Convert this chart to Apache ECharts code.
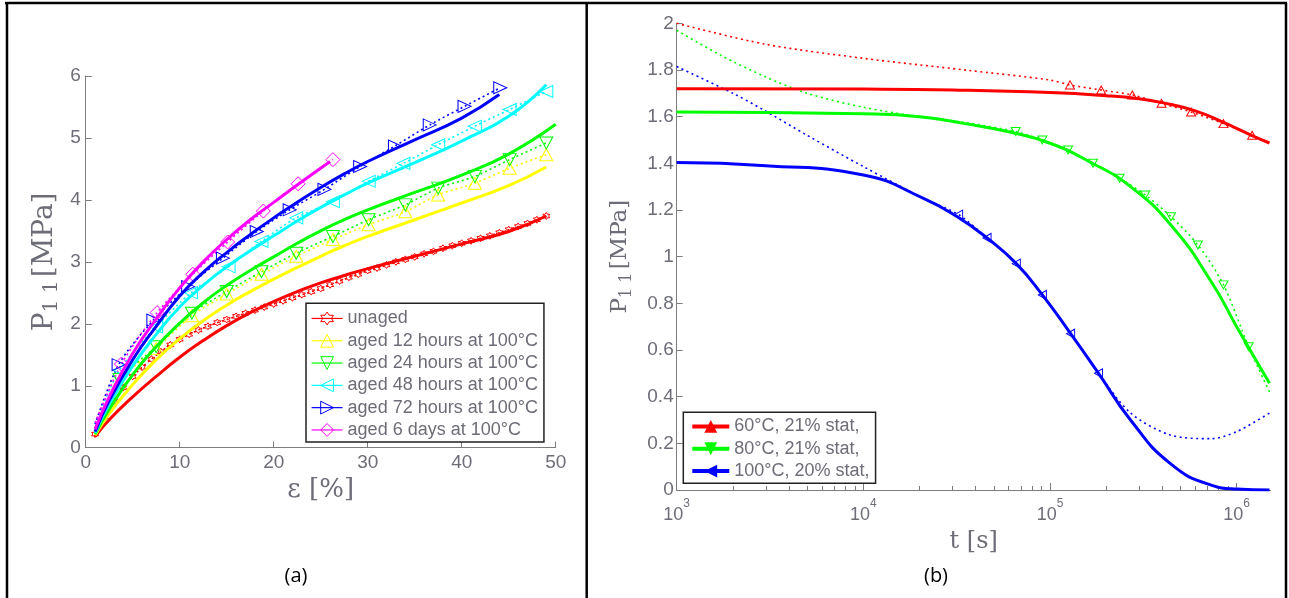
<!DOCTYPE html>
<html><head><meta charset="utf-8">
<script src="https://cdn.jsdelivr.net/npm/echarts@6/dist/echarts.min.js"></script>
<style>html,body{margin:0;padding:0;background:#fff}#c{width:1289px;height:598px}</style>
</head><body><div id="c"></div>
<script>
// ---------- Panel (a): P11 vs strain ----------
const aLegendNames = ['unaged','aged 12 hours at 100°C','aged 24 hours at 100°C','aged 48 hours at 100°C','aged 72 hours at 100°C','aged 6 days at 100°C'];
const aColors = ['#ff0000','#ffff00','#00ff00','#00ffff','#0000ff','#ff00ff'];
const aXTicks = [0,10,20,30,40,50];

// model fits (solid)
const fitUnaged = [[1,0.18],[2.5,0.45],[5,0.82],[7.5,1.15],[10,1.46],[12.5,1.73],[15,1.97],[17.5,2.18],[20,2.36],[22.5,2.52],[25,2.66],[27.5,2.78],[30,2.89],[35,3.09],[40,3.29],[45,3.49],[49,3.74]];
const fit12h = [[1,0.2],[2.5,0.55],[5,1.02],[7.5,1.42],[10,1.76],[12.5,2.05],[15,2.3],[17.5,2.52],[20,2.72],[22.5,2.91],[25,3.09],[27.5,3.26],[30,3.41],[35,3.68],[40,3.95],[45,4.23],[49,4.53]];
const fit24h = [[1,0.22],[2.5,0.62],[5,1.18],[7.5,1.63],[10,2.01],[12.5,2.34],[15,2.62],[17.5,2.86],[20,3.08],[22.5,3.3],[25,3.5],[27.5,3.68],[30,3.84],[35,4.12],[40,4.4],[45,4.74],[50,5.22]];
const fit48h = [[1,0.24],[2.5,0.7],[5,1.32],[7.5,1.83],[10,2.27],[12.5,2.62],[15,2.92],[17.5,3.18],[20,3.42],[22.5,3.66],[25,3.88],[27.5,4.08],[30,4.27],[35,4.6],[40,4.95],[45,5.35],[49,5.86]];
const fit72h = [[1,0.26],[2.5,0.76],[5,1.42],[7.5,1.96],[10,2.45],[12.5,2.83],[15,3.15],[17.5,3.44],[20,3.71],[22.5,3.96],[25,4.2],[27.5,4.42],[30,4.62],[35,4.97],[40,5.32],[44,5.7]];
const fit6d = [[1,0.3],[2.5,0.82],[5,1.52],[7.5,2.08],[10,2.58],[12.5,3.0],[15,3.36],[17.5,3.68],[20,3.96],[22.5,4.24],[26,4.62]];

// experiments (dotted + markers)
const expUnagedX = [1,2,3,4,5,6,7,8,9,10,11,12,13,14,15,16,17,18,19,20,21,22,23,24,25,26,27,28,29,30,31,32,33,34,35,36,37,38,39,40,41,42,43,44,45,46,47,48,49];
const expUnagedY = [0.22,0.5,0.75,0.97,1.15,1.3,1.43,1.55,1.66,1.75,1.83,1.9,1.96,2.02,2.07,2.12,2.17,2.22,2.27,2.32,2.37,2.42,2.47,2.52,2.57,2.63,2.69,2.75,2.8,2.86,2.9,2.95,3.0,3.04,3.08,3.13,3.17,3.22,3.26,3.3,3.34,3.38,3.42,3.47,3.52,3.57,3.62,3.68,3.74];
const exp12hX = [3.6,7.5,11.3,15,18.7,22.4,26.3,30.1,34,37.5,41.4,45.1,49];
const exp12hY = [1.08,1.6,2.13,2.48,2.8,3.09,3.36,3.6,3.81,4.08,4.27,4.51,4.73];
const exp24hX = [3.6,7.5,11.3,15,18.7,22.4,26.3,30.1,34,37.5,41.4,45.1,49];
const exp24hY = [1.1,1.63,2.17,2.52,2.84,3.14,3.41,3.68,3.92,4.19,4.38,4.65,4.92];
const exp48hX = [3.6,7.5,11.2,15.2,18.7,22.4,26.3,30.1,33.8,37.5,41.4,45.1,49];
const exp48hY = [1.25,1.95,2.5,2.92,3.33,3.71,3.97,4.3,4.59,4.89,5.19,5.46,5.75];
const exp72hX = [3.5,7.2,10.9,14.6,18.2,21.7,25.4,29.2,32.9,36.6,40.3,44.1];
const exp72hY = [1.34,2.06,2.6,3.06,3.49,3.84,4.17,4.54,4.87,5.21,5.51,5.81];
const exp6dX = [3.8,7.6,11.4,15.1,18.9,22.6,26.3];
const exp6dY = [1.35,2.18,2.8,3.32,3.82,4.26,4.65];
const expStart = [[1,0.22],[1,0.3],[1,0.3],[1,0.38],[1,0.38],[1,0.4]];

// ---------- Panel (b): P11 vs time (log) ----------
const bLegendNames = ['60°C, 21% stat,','80°C, 21% stat,','100°C, 20% stat,'];
const bColors = ['#ff0000','#00ff00','#0000ff'];
const bMajorTicks = [1e3,1e4,1e5,1e6];
const bMinorTicks = [2e3,3e3,4e3,5e3,6e3,7e3,8e3,9e3,2e4,3e4,4e4,5e4,6e4,7e4,8e4,9e4,2e5,3e5,4e5,5e5,6e5,7e5,8e5,9e5];

const fit60 = [[1e3,1.72],[1e4,1.718],[3e4,1.714],[1e5,1.703],[2e5,1.69],[3e5,1.677],[4e5,1.66],[6e5,1.625],[8.5e5,1.575],[1.2e6,1.52],[1.5e6,1.487]];
const fit80 = [[1e3,1.62],[1e4,1.612],[2e4,1.6],[3.5e4,1.57],[6e4,1.535],[1e5,1.486],[1.6e5,1.41],[2.7e5,1.3],[4.5e5,1.13],[7.4e5,0.886],[1e6,0.7],[1.5e6,0.457]];
const fit100 = [[1e3,1.403],[3e3,1.39],[1e4,1.35],[2.1e4,1.25],[3.2e4,1.17],[4.6e4,1.08],[6.6e4,0.97],[9.1e4,0.836],[1.29e5,0.67],[1.82e5,0.5],[2.7e5,0.3],[4.4e5,0.114],[7.3e5,0.021],[1e6,0.004],[1.5e6,0.0]];

const exp60Lead = [[1e3,2.0],[3e3,1.91],[1e4,1.85],[3.5e4,1.8],[1e5,1.757]];
const exp60Mk = [[1.28e5,1.736],[1.88e5,1.714],[2.76e5,1.693],[3.96e5,1.657],[5.7e5,1.62],[8.5e5,1.57],[1.21e6,1.52]];
const exp60Tail = [];
const exp80Lead = [[1e3,1.97],[1.75e3,1.86],[3e3,1.77],[5e3,1.7],[1e4,1.64],[2e4,1.6],[3.5e4,1.575]];
const exp80Mk = [[6.55e4,1.536],[9.1e4,1.5],[1.25e5,1.457],[1.7e5,1.4],[2.36e5,1.336],[3.24e5,1.264],[4.45e5,1.171],[6.2e5,1.05],[8.5e5,0.879],[1.16e6,0.614]];
const exp80Tail = [[1.5e6,0.42]];
const exp100Lead = [[1e3,1.815],[2e3,1.7],[2.9e3,1.63],[5e3,1.52],[1e4,1.386],[2.16e4,1.245]];
const exp100Mk = [[3.24e4,1.18],[4.6e4,1.08],[6.6e4,0.97],[9.1e4,0.836],[1.29e5,0.67],[1.82e5,0.5]];
const exp100Tail = [[2.7e5,0.33],[4.4e5,0.236],[7.3e5,0.22],[1e6,0.25],[1.5e6,0.33]];

// ---------- styling ----------
const TXT = '#6d6d78';
const AX = '#7d7d7d';
const SERIF = 'DejaVu Serif';
const SANS = 'Liberation Sans';
const STAR = 'path://M0,-10L2.89,-5L8.66,-5L5.77,0L8.66,5L2.89,5L0,10L-2.89,5L-8.66,5L-5.77,0L-8.66,-5L-2.89,-5Z';

function zip(xs, ys){ return xs.map((x,i)=>[x, ys[i]]); }
function fitSeries(data, color, gi){
  return {type:'line', xAxisIndex: gi===0?0:1, yAxisIndex: gi, data, smooth:0.5, symbol:'none',
    lineStyle:{color, width:3}, silent:true, z:3, animation:false};
}
function expSeries(name, lead, marks, tail, color, sym, rot, size, gi, dash, lw){
  const data = [];
  lead.forEach(p=>data.push({value:p, symbol:'none'}));
  marks.forEach(p=>data.push({value:p}));
  tail.forEach(p=>data.push({value:p, symbol:'none'}));
  return {type:'line', name, xAxisIndex: gi===0?0:1, yAxisIndex: gi, data, smooth:0.3,
    symbol:sym, symbolSize:size, symbolRotate:rot, showAllSymbol:true,
    itemStyle:{color:'rgba(0,0,0,0)', borderColor:color, borderWidth:1},
    lineStyle:{color, width:lw, type:dash}, z:2, animation:false};
}

const aSyms = [STAR,'triangle','triangle','triangle','triangle','diamond'];
const aRots = [0,0,180,90,-90,0];
const aSizes = [[7,7],[13,12],[13,12],[12,13],[12,13],[14,14]];
const aFits = [fitUnaged, fit12h, fit24h, fit48h, fit72h, fit6d];
const aExp = [zip(expUnagedX,expUnagedY), zip(exp12hX,exp12hY), zip(exp24hX,exp24hY), zip(exp48hX,exp48hY), zip(exp72hX,exp72hY), zip(exp6dX,exp6dY)];

const series = [];
aExp.forEach((m,i)=>{
  const lead = i===0 ? [] : [expStart[i]];
  series.push(expSeries(aLegendNames[i], lead, m, [], aColors[i], aSyms[i], aRots[i], aSizes[i], 0, [2,3], 1.6));
});
aFits.forEach((f,i)=>series.push(fitSeries(f, aColors[i], 0)));

const bLead=[exp60Lead,exp80Lead,exp100Lead], bMk=[exp60Mk,exp80Mk,exp100Mk], bTail=[exp60Tail,exp80Tail,exp100Tail];
const bRots=[0,180,90];
bLead.forEach((l,i)=>series.push(expSeries(bLegendNames[i], l, bMk[i], bTail[i], bColors[i], 'triangle', bRots[i], [9,8], 1, [2,3.5], 1.6)));
[fit60,fit80,fit100].forEach((f,i)=>series.push(fitSeries(f, bColors[i], 1)));

const ynameRich = (fs)=>({
  p:{fontFamily:SERIF, fontSize:fs, color:TXT, lineHeight:fs+6},
  s:{fontFamily:SERIF, fontSize:Math.round(fs*0.7), color:TXT, lineHeight:8, verticalAlign:'bottom'}
});

const option = {
  animation:false,
  backgroundColor:'#fff',
  grid:[
    {left:85.7, top:76, width:470, height:371.7},
    {left:676.7, top:23.3, width:593.9, height:466.7}
  ],
  xAxis:[
    {gridIndex:0, type:'value', min:0, max:50, interval:10,
     axisLine:{lineStyle:{color:AX}}, axisTick:{inside:true, length:6, lineStyle:{color:AX}},
     axisLabel:{color:TXT, fontFamily:SANS, fontSize:19, margin:6}, splitLine:{show:false},
     name:'ε [%]', nameLocation:'middle', nameGap:28,
     nameTextStyle:{fontFamily:SERIF, fontSize:26, color:TXT}},
    {gridIndex:1, type:'log', logBase:10, min:1e3, max:1.52e6,
     axisLine:{lineStyle:{color:AX}},
     axisTick:{inside:true, length:7, customValues:bMajorTicks, lineStyle:{color:AX}},
     axisLabel:{customValues:bMajorTicks, margin:8,
       formatter:(v)=>'{b|10}{s|'+Math.round(Math.log10(v))+'}',
       rich:{b:{fontFamily:SANS, fontSize:18, color:TXT, lineHeight:26, verticalAlign:'bottom'},
             s:{fontFamily:SANS, fontSize:12, color:TXT, lineHeight:6, verticalAlign:'top'}}},
     splitLine:{show:false},
     name:'t [s]', nameLocation:'middle', nameGap:40,
     nameTextStyle:{fontFamily:SERIF, fontSize:24, color:TXT}},
    {gridIndex:1, type:'log', logBase:10, min:1e3, max:1.52e6, position:'bottom',
     axisLine:{show:false},
     axisTick:{inside:true, length:4, customValues:bMinorTicks, lineStyle:{color:AX}},
     axisLabel:{show:false}, splitLine:{show:false}}
  ],
  yAxis:[
    {gridIndex:0, type:'value', min:0, max:6, interval:1,
     axisLine:{show:true, lineStyle:{color:AX}}, axisTick:{show:true, inside:true, length:6, lineStyle:{color:AX}},
     axisLabel:{color:TXT, fontFamily:SANS, fontSize:19, margin:5}, splitLine:{show:false},
     name:'{p|P}{s|1 1} {p|[MPa]}', nameLocation:'middle', nameGap:24, nameRotate:90,
     nameTextStyle:{rich:ynameRich(28)}},
    {gridIndex:1, type:'value', min:0, max:2, interval:0.2,
     axisLine:{show:true, lineStyle:{color:AX}}, axisTick:{show:true, inside:true, length:6, lineStyle:{color:AX}},
     axisLabel:{color:TXT, fontFamily:SANS, fontSize:19, margin:3}, splitLine:{show:false},
     name:'{p|P}{s|1 1} {p|[MPa]}', nameLocation:'middle', nameGap:42, nameRotate:90,
     nameTextStyle:{rich:ynameRich(23)}}
  ],
  legend:[
    {left:306, top:303.3, orient:'vertical', padding:[4,6,1,5], itemGap:0,
     itemWidth:31, itemHeight:16, backgroundColor:'#fff', borderColor:'#222', borderWidth:1.5, borderRadius:0,
     textStyle:{fontFamily:SANS, fontSize:18, color:TXT, lineHeight:22.3},
     data:aLegendNames.map(n=>({name:n, lineStyle:{type:'solid', width:1.2}, itemStyle:{borderWidth:1}})),
     selectedMode:false},
    {left:683.3, top:412.3, orient:'vertical', padding:[3,6,1,7], itemGap:0,
     itemWidth:37, itemHeight:16, backgroundColor:'#fff', borderColor:'#222', borderWidth:1.5, borderRadius:0,
     textStyle:{fontFamily:SANS, fontSize:18, color:TXT, lineHeight:22.3},
     data:bLegendNames.map((n,i)=>({name:n, lineStyle:{type:'solid', width:4, color:bColors[i]}, itemStyle:{color:bColors[i], borderWidth:0}})),
     selectedMode:false}
  ],
  graphic:[
    {type:'line', shape:{x1:5, y1:3, x2:1287, y2:3}, style:{stroke:'#000', lineWidth:2.5}, silent:true},
    {type:'line', shape:{x1:7, y1:3, x2:7, y2:598}, style:{stroke:'#000', lineWidth:2.5}, silent:true},
    {type:'line', shape:{x1:586.7, y1:3, x2:586.7, y2:598}, style:{stroke:'#000', lineWidth:2.5}, silent:true},
    {type:'line', shape:{x1:1286, y1:3, x2:1286, y2:598}, style:{stroke:'#000', lineWidth:2.5}, silent:true},
    {type:'text', x:296, y:566, style:{text:'(a)', font:'20px "Open Sans"', fill:'#000', textAlign:'center'}, silent:true},
    {type:'text', x:936, y:566, style:{text:'(b)', font:'20px "Open Sans"', fill:'#000', textAlign:'center'}, silent:true}
  ],
  series
};

const chart = echarts.init(document.getElementById('c'), null, {renderer:'canvas'});
chart.setOption(option);
</script></body></html>
